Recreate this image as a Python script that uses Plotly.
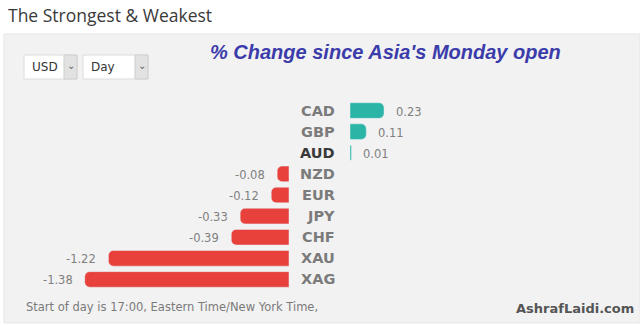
import plotly.graph_objects as go

# Currency strength vs USD, % change since the Asian Monday open
currencies = ["CAD", "GBP", "AUD", "NZD", "EUR", "JPY", "CHF", "XAU", "XAG"]
changes = [0.23, 0.11, 0.01, -0.08, -0.12, -0.33, -0.39, -1.22, -1.38]
value_labels = ["0.23", "0.11", "0.01", "-0.08", "-0.12", "-0.33", "-0.39", "-1.22", "-1.38"]

W, H = 640, 325
PX_PER_UNIT = 148.0
LEFT_END, RIGHT_START = 289, 350        # pixel columns where bars start
ROW_TOP, ROW_BOTTOM = 100, 290          # pixel extent of the category rows

POS_COLOR = "#2bb5a7"
NEG_COLOR = "#e8403a"
LABEL_GRAY = "#7b7b7b"


def px(x):
    return x / W


def py(y):
    return 1 - y / H


pos_y = [c for c, v in zip(currencies, changes) if v >= 0]
pos_x = [v for v in changes if v >= 0]
neg_y = [c for c, v in zip(currencies, changes) if v < 0]
neg_x = [v for v in changes if v < 0]

fig = go.Figure()
fig.add_trace(go.Bar(y=neg_y, x=neg_x, orientation="h", marker_color=NEG_COLOR,
                     width=0.74, xaxis="x", yaxis="y", hoverinfo="skip"))
fig.add_trace(go.Bar(y=pos_y, x=pos_x, orientation="h", marker_color=POS_COLOR,
                     width=0.74, xaxis="x2", yaxis="y", hoverinfo="skip"))

annotations = []
# value labels beside each bar end
for c, v, t in zip(currencies, changes, value_labels):
    annotations.append(dict(
        x=v, y=c, xref="x2" if v >= 0 else "x", yref="y", text=t, showarrow=False,
        xanchor="left" if v >= 0 else "right", xshift=10 if v >= 0 else -10, yshift=-1,
        font=dict(family="DejaVu Sans", size=11.5, color="#808080")))
# category names in the centre column
for c in currencies:
    annotations.append(dict(
        x=px(337), y=c, xref="paper", yref="y", text=f"<b>{c}</b>", showarrow=False,
        xanchor="right", font=dict(family="DejaVu Sans", size=14.5,
                                   color="#3a3a3a" if c == "AUD" else LABEL_GRAY)))

annotations += [
    dict(x=px(6), y=py(15), xref="paper", yref="paper", text="The Strongest &amp; Weakest",
         showarrow=False, xanchor="left", yanchor="middle",
         font=dict(family="Open Sans", size=17.5, color="#3a3a3a")),
    dict(x=px(385), y=py(52), xref="paper", yref="paper",
         text="<b><i>% Change since Asia's Monday open</i></b>", showarrow=False,
         xanchor="center", yanchor="middle",
         font=dict(family="Liberation Sans", size=20, color="#3b3caa")),
    dict(x=px(30), y=py(67), xref="paper", yref="paper", text="USD", showarrow=False,
         xanchor="left", yanchor="middle", font=dict(family="DejaVu Sans", size=12, color="#333")),
    dict(x=px(89), y=py(67), xref="paper", yref="paper", text="Day", showarrow=False,
         xanchor="left", yanchor="middle", font=dict(family="DejaVu Sans", size=12, color="#333")),
    dict(x=px(70.5), y=py(66), xref="paper", yref="paper", text="⌄", showarrow=False,
         xanchor="center", yanchor="middle", font=dict(family="DejaVu Sans", size=10, color="#666")),
    dict(x=px(141.5), y=py(66), xref="paper", yref="paper", text="⌄", showarrow=False,
         xanchor="center", yanchor="middle", font=dict(family="DejaVu Sans", size=10, color="#666")),
    dict(x=px(24), y=py(307), xref="paper", yref="paper",
         text="Start of day is 17:00, Eastern Time/New York Time,", showarrow=False,
         xanchor="left", yanchor="middle", font=dict(family="DejaVu Sans", size=11.5, color="#7a7a7a")),
    dict(x=px(636), y=py(308), xref="paper", yref="paper", text="<b>AshrafLaidi.com</b>",
         showarrow=False, xanchor="right", yanchor="middle",
         font=dict(family="DejaVu Sans", size=13, color="#555")),
]

shapes = [
    # grey panel
    dict(type="rect", xref="paper", yref="paper", x0=px(4), x1=px(640), y0=py(323), y1=py(34),
         fillcolor="#f2f2f2", line=dict(color="#e6e6e6", width=1), layer="below"),
    # dropdown boxes
    dict(type="rect", xref="paper", yref="paper", x0=px(24), x1=px(77), y0=py(79), y1=py(55),
         fillcolor="#ffffff", line=dict(color="#dcdcdc", width=1), layer="below"),
    dict(type="rect", xref="paper", yref="paper", x0=px(64), x1=px(77), y0=py(79), y1=py(55),
         fillcolor="#e2e2e2", line=dict(color="#cfcfcf", width=1), layer="below"),
    dict(type="rect", xref="paper", yref="paper", x0=px(83), x1=px(148), y0=py(79), y1=py(55),
         fillcolor="#ffffff", line=dict(color="#dcdcdc", width=1), layer="below"),
    dict(type="rect", xref="paper", yref="paper", x0=px(135), x1=px(148), y0=py(79), y1=py(55),
         fillcolor="#e2e2e2", line=dict(color="#cfcfcf", width=1), layer="below"),
]

axis_off = dict(visible=False, showgrid=False, zeroline=False, fixedrange=True)
fig.update_layout(
    width=W, height=H, margin=dict(l=0, r=0, t=0, b=0),
    paper_bgcolor="#ffffff", plot_bgcolor="rgba(0,0,0,0)",
    showlegend=False, barcornerradius=5,
    xaxis=dict(domain=[0, px(LEFT_END)], range=[-LEFT_END / PX_PER_UNIT, 0], anchor="y", **axis_off),
    xaxis2=dict(domain=[px(RIGHT_START), 1], range=[0, (W - RIGHT_START) / PX_PER_UNIT],
                anchor="y", **axis_off),
    yaxis=dict(domain=[py(ROW_BOTTOM), py(ROW_TOP)], range=[len(currencies) - 0.5, -0.5],
               type="category", categoryorder="array", categoryarray=currencies, **axis_off),
    annotations=annotations, shapes=shapes,
)

fig.write_html("out.html")
